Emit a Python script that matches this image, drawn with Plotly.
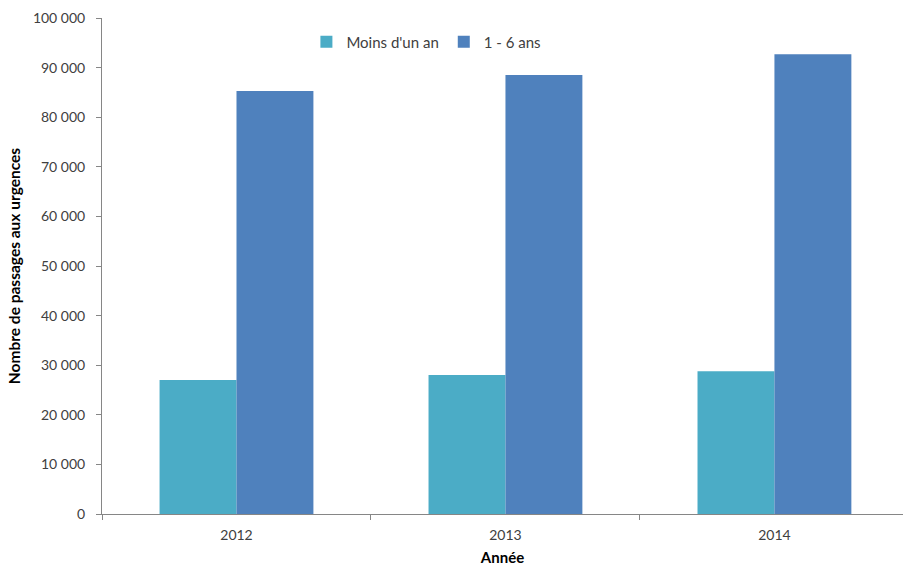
import plotly.graph_objects as go

years = ["2012", "2013", "2014"]
moins_un_an = [27000, 28000, 28800]
un_six_ans = [85300, 88500, 92700]
y_ticks = [0, 10000, 20000, 30000, 40000, 50000, 60000, 70000, 80000, 90000, 100000]

font_family = "Lato, 'Open Sans', sans-serif"

fig = go.Figure()
fig.add_trace(go.Bar(x=years, y=moins_un_an, name="Moins d'un an",
                     marker=dict(color="#4BACC6", line=dict(width=0))))
fig.add_trace(go.Bar(x=years, y=un_six_ans, name="1 - 6 ans",
                     marker=dict(color="#4F81BD", line=dict(width=0))))

fig.update_layout(
    width=903, height=566,
    margin=dict(l=102, r=0, t=18, b=52),
    paper_bgcolor="white", plot_bgcolor="white",
    separators=", ",
    barmode="group", bargap=0.428, bargroupgap=0,
    font=dict(family=font_family, size=14, color="#404040"),
    legend=dict(orientation="h", x=0.405, xanchor="center", y=0.985, yanchor="top",
                font=dict(size=15, color="#404040"), bgcolor="rgba(0,0,0,0)",
                itemwidth=30, traceorder="normal"),
    xaxis=dict(range=[-0.5, 2.478], showline=True, linecolor="#868686", linewidth=1,
               ticks="outside", tickson="boundaries", ticklen=5, tickcolor="#868686",
               showgrid=False, zeroline=False, ticklabelstandoff=8,
               tickfont=dict(size=14, color="#404040"),
               title=dict(text="<b>Année</b>", font=dict(size=15, color="#000000"), standoff=14)),
    yaxis=dict(range=[0, 100000], tickvals=y_ticks, tickformat=",d",
               showline=True, linecolor="#868686", linewidth=1,
               ticks="outside", ticklen=5, tickcolor="#868686",
               showgrid=False, zeroline=False, ticklabelstandoff=8,
               tickfont=dict(size=14, color="#404040"),
               title=dict(text="<b>Nombre de passages aux urgences</b>",
                          font=dict(size=15.5, color="#000000"), standoff=8)),
)

fig.write_html("out.html")
